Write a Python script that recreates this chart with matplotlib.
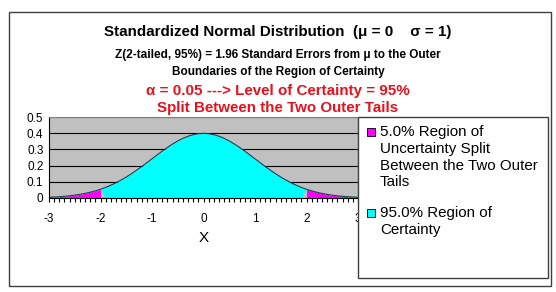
import numpy as np
import matplotlib.pyplot as plt
from matplotlib.patches import Rectangle

# standard normal density read at 0.1 steps (right half, mirrored for the left)
z_half = [0.0, 0.1, 0.2, 0.3, 0.4, 0.5, 0.6, 0.7, 0.8, 0.9, 1.0,
          1.1, 1.2, 1.3, 1.4, 1.5, 1.6, 1.7, 1.8, 1.9, 2.0,
          2.1, 2.2, 2.3, 2.4, 2.5, 2.6, 2.7, 2.8, 2.9, 3.0]
pdf_half = [0.3989, 0.3970, 0.3910, 0.3814, 0.3683, 0.3521, 0.3332, 0.3123, 0.2897, 0.2661, 0.2420,
            0.2179, 0.1942, 0.1714, 0.1497, 0.1295, 0.1109, 0.0940, 0.0790, 0.0656, 0.0540,
            0.0440, 0.0355, 0.0283, 0.0224, 0.0175, 0.0136, 0.0104, 0.0079, 0.0060, 0.0044]
z_crit = 1.96
xticks = [-3, -2, -1, 0, 1, 2, 3]
yticks = [0, 0.1, 0.2, 0.3, 0.4, 0.5]
legend_labels = ["5.0% Region of\nUncertainty Split\nBetween the Two Outer\nTails",
                 "95.0% Region of\nCertainty"]

x = np.array([-v for v in z_half[:0:-1]] + z_half)
y = np.array(pdf_half[:0:-1] + pdf_half)

W, H = 556, 292
fig = plt.figure(figsize=(W / 100, H / 100), dpi=100)
plt.rcParams['font.family'] = ['Liberation Sans', 'DejaVu Sans']

def fx(px):
    return px / W

def fy(py):
    return 1 - py / H

# outer chart frame
fig.patches.append(Rectangle((fx(9), fy(286)), fx(542), (286 - 12) / H,
                             transform=fig.transFigure, fill=False,
                             edgecolor='#404040', lw=1))

ax = fig.add_axes([fx(49), fy(198), fx(358 - 49), (198 - 117) / H])
ax.set_facecolor('#c0c0c0')

cyan = '#00ffff'
magenta = '#ff00ff'
ax.fill_between(x, y, where=np.abs(x) <= z_crit + 1e-9, interpolate=True,
                color=cyan, lw=0)
ax.fill_between(x, y, where=x <= -z_crit, interpolate=True, color=magenta, lw=0)
ax.fill_between(x, y, where=x >= z_crit, interpolate=True, color=magenta, lw=0)
ax.plot(x, y, color='#1f3f4f', lw=0.8)

ax.set_xlim(-3, 3)
ax.set_ylim(0, 0.5)
ax.set_xticks(xticks)
ax.set_xticklabels([str(t) for t in xticks], fontsize=8.5)
ax.set_xticks(np.round(np.arange(-3, 3.01, 0.1), 1), minor=True)
ax.set_yticks(yticks)
ax.set_yticklabels(['0', '0.1', '0.2', '0.3', '0.4', '0.5'], fontsize=8.5)
ax.tick_params(axis='x', which='both', direction='out', length=3, width=0.8, pad=8)
ax.tick_params(axis='y', length=0, pad=4)
ax.grid(axis='y', color='black', lw=0.8)
ax.set_axisbelow(True)
for s in ['top', 'right']:
    ax.spines[s].set_color('#808080')
ax.spines['left'].set_color('black')
ax.spines['bottom'].set_color('black')
ax.set_xlabel('X', fontsize=11, labelpad=4)

# titles
fig.text(0.5, fy(32), 'Standardized Normal Distribution  (\u03bc = 0    \u03c3 = 1)',
         ha='center', va='center', fontsize=10.9, fontweight='bold')
fig.text(0.5, fy(55), 'Z(2-tailed, 95%) = 1.96 Standard Errors from \u03bc to the Outer',
         ha='center', va='center', fontsize=8.5, fontweight='bold')
fig.text(0.5, fy(72), 'Boundaries of the Region of Certainty',
         ha='center', va='center', fontsize=8.5, fontweight='bold')
red = '#e8101c'
fig.text(0.5, fy(91), '\u03b1 = 0.05 ---> Level of Certainty = 95%',
         ha='center', va='center', fontsize=10.9, fontweight='bold', color=red)
fig.text(0.5, fy(108), 'Split Between the Two Outer Tails',
         ha='center', va='center', fontsize=10.9, fontweight='bold', color=red)

# legend box
fig.patches.append(Rectangle((fx(358), fy(278)), fx(548 - 358), (278 - 117) / H,
                             transform=fig.transFigure, facecolor='white',
                             edgecolor='#404040', lw=1, zorder=5))
for (py, col, lab) in [(132, magenta, legend_labels[0]), (213, cyan, legend_labels[1])]:
    fig.patches.append(Rectangle((fx(367), fy(py + 4)), fx(8), 8 / H,
                                 transform=fig.transFigure, facecolor=col,
                                 edgecolor='black', lw=0.6, zorder=6))
    fig.text(fx(380), fy(py - 7), lab, ha='left', va='top', fontsize=10.9,
             linespacing=1.25, zorder=6)

fig.savefig('out.png', dpi=100)
